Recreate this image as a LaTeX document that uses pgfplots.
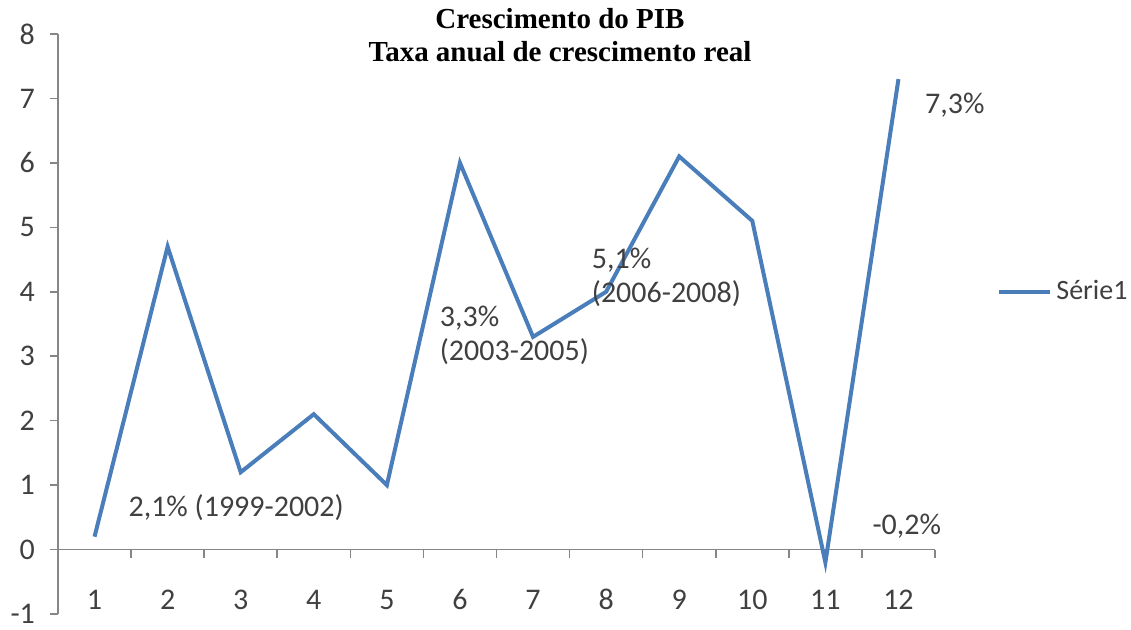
\documentclass[border=0pt]{standalone}
\usepackage{pgfplots}
\pgfplotsset{compat=1.18}
\usepackage{fontspec}
\setmainfont{Carlito}
\newfontfamily\titlefont{Liberation Serif}
\definecolor{lineblue}{HTML}{4A7EBB}
\definecolor{axisgray}{HTML}{868686}
\definecolor{txt}{HTML}{404040}
\newcommand{\annfont}{\fontsize{15}{17}\selectfont}
\begin{document}
\begin{tikzpicture}
\begin{axis}[
  scale only axis, width=438.5pt, height=290pt,
  xmin=0.5, xmax=12.5, ymin=-1, ymax=8,
  axis x line=middle, axis y line=left,
  axis line style={draw=axisgray, line width=0.75pt, -},
  hide obscured x ticks=false, hide obscured y ticks=false,
  xtick={1,...,12},
  major x tick style={draw=none},
  minor xtick={1.5,2.5,...,12.5},
  ytick={-1,0,...,8},
  tick align=outside,
  major tick length=4pt, minor tick length=4pt,
  tick style={draw=axisgray, line width=0.75pt},
  xticklabel style={anchor=center, yshift=-21pt},
  yticklabel style={xshift=-4pt},
  tick label style={font=\fontsize{15}{17}\selectfont, text=txt},
  /pgf/number format/assume math mode=true,
  legend style={draw=none, fill=none, at={(1.0707,0.556)}, anchor=west,
    font=\fontsize{14}{16}\selectfont, text=txt, inner sep=0pt,
    nodes={inner sep=2pt}},
  legend image code/.code={\draw[#1] (0pt,0pt) -- (25.5pt,0pt);},
  clip=false,
]
\addplot[lineblue, line width=2pt] coordinates {
  (1,0.2) (2,4.7) (3,1.2) (4,2.1) (5,1.0) (6,6.0)
  (7,3.3) (8,4.0) (9,6.1) (10,5.1) (11,-0.2) (12,7.3)
};
\addlegendentry{Série1}
\node[anchor=west, inner sep=0pt, font=\annfont, text=txt] at (axis cs:1.46,0.65) {2,1\% (1999-2002)};
\node[anchor=west, inner sep=0pt, font=\annfont, text=txt, align=left] at (axis cs:5.72,3.33) {3,3\%\\(2003-2005)};
\node[anchor=west, inner sep=0pt, font=\annfont, text=txt, align=left] at (axis cs:7.8,4.22) {5,1\%\\(2006-2008)};
\node[anchor=west, inner sep=0pt, font=\annfont, text=txt] at (axis cs:12.36,6.89) {7,3\%};
\node[anchor=west, inner sep=0pt, font=\annfont, text=txt] at (axis cs:11.64,0.37) {-0,2\%};
\node[anchor=north, inner sep=0pt, align=center, font=\titlefont\bfseries\fontsize{14.5}{16.5}\selectfont]
  at (rel axis cs:0.5724,1) [yshift=13pt] {Crescimento do PIB\\Taxa anual de crescimento real};
\coordinate (bl) at (rel axis cs:0,0);
\coordinate (tr) at (rel axis cs:1,1);
\end{axis}
\pgfresetboundingbox
\path ([shift={(-29pt,-8pt)}]bl) rectangle ([shift={(98pt,17pt)}]tr);
\end{tikzpicture}
\end{document}
